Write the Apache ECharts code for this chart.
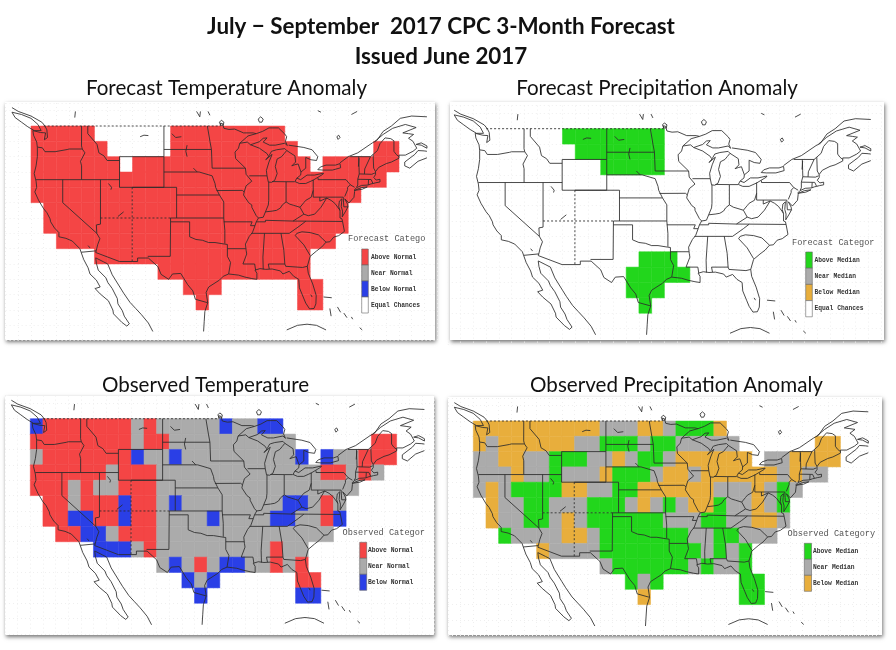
<!DOCTYPE html>
<html>
<head>
<meta charset="UTF-8">
<title>CPC 3-Month Forecast</title>
<script src="https://cdn.jsdelivr.net/npm/echarts@6/dist/echarts.min.js"></script>
<style>
html,body{margin:0;padding:0;background:#fff;}
#main{width:896px;height:650px;filter:blur(0.45px);}
</style>
</head>
<body>
<div id="main"></div>
<script>
// grid cells: 2 x 2 degree boxes, first row starts at 47N, first column at 125W
// R/A = above, N = near, B = below, . = no cell
var forecastTemp = [
  'RRRRR......RRRRRRRRR.........',
  'RRRRRR.....RRRRRRRRRR......RR',
  'RRRRRRR.RRRRRRRRRRRRRR.RRRRRR',
  'RRRRRRRRRRRRRRRRRRRRRRRRRRRR.',
  'RRRRRRRRRRRRRRRRRRRRRRRRRR...',
  '.RRRRRRRRRRRRRRRRRRRRRRRR....',
  '.RRRRRRRRRRRRRRRRRRRRRRRR....',
  '..RRRRRRRRRRRRRRRRRRRRRR.....',
  '.....RRRRRRRRRRRRRRRRR.......',
  '..........RRRRRRRRRRRR.......',
  '............RRR......RR......',
  '.............R.......RR......'
];
var forecastPrecip = [
  '.......AAAAAAAA..............',
  '........AAAAAAA..............',
  '..........AAAAA..............',
  '',
  '',
  '',
  '',
  '',
  '.............AAA.............',
  '............AAAAA............',
  '............AAA..............',
  '.............A...............'
];
var observedTemp = [
  'BRRRRRRRNRNNNNNBNNBB.........',
  'RRRRRRRRNRRNNNNNNNNNN......RR',
  'NRRRRRRRBNNBNNNNNNNNNB.BNNRRR',
  'RRRRRRNRRRNNNNNNNNNNNNNRRNRN.',
  'RRRNRNNRRRNNNNNNNNNNNNNNNN...',
  '.RRNRRRBRRNBNNNNNNNNBBNRN....',
  '.RRBBRRBRRNNNNBNNNNBBNNRB....',
  '..RRBBNRRRNNNNNNNNNNNNNN.....',
  '.....BBBNRNNNNNNNNNRNN.......',
  '..........NBNRNBBNNRNR.......',
  '............BNB......RR......',
  '.............B.......BB......'
];
var observedPrecip = [
  'BBBBBBBBBBNNNBBNAAAB.........',
  'BNBBBBBBNNAAANAANNNNN......BB',
  'NNBBNNAAANNBNAANBBBBBB.NNBBBB',
  'NNNBNNANNNBAAANBBNBBBBBBNBNN.',
  'NBNAAAABBNNAABBBBBBNNNBNAN...',
  '.BNNAANNNAAANBNANBBANNBNA....',
  '.BNNAANBNAAAAAANNNAANNBBN....',
  '..ANNNNBBNAAAAAAANNAANNN.....',
  '.....BNNNNAAAAAAAANANA.......',
  '..........NAAAAAANANNA.......',
  '............ANA......AA......',
  '.............B.......AA......'
];

var tempLabels = ['Above Normal', 'Near Normal', 'Below Normal', 'Equal Chances'];
var precipLabels = ['Above Median', 'Near Median', 'Below Median', 'Equal Chances'];

// map outlines in lon/lat
var coasts = [
  [[-122.8,49],[-122.5,48.5],[-122.4,47.5],[-122.9,47.2],[-122.7,48.1],[-123.5,48.15],[-124.7,48.4],[-124.6,47.8],[-124.1,46.9],[-124,46.2],[-124,45],[-124.2,43.8],[-124.5,42.8],[-124.2,41.8],[-124.1,41],[-124.4,40.4],[-123.8,39.3],[-123,38.2],[-122.5,37.7],[-122,36.9],[-121.9,36.5],[-121.3,35.7],[-120.6,35.1],[-120.6,34.55],[-119.5,34.35],[-118.5,34],[-118.2,33.75],[-117.3,33],[-117.1,32.53],[-116.7,31.6],[-116,30.5],[-115.7,29.7],[-114.7,28.9],[-114.1,28],[-114.9,27.8],[-114.1,27.1],[-112.8,26.2],[-112.1,25],[-112,24.5],[-110.7,23.4],[-109.9,22.9],[-109.5,23.2],[-110.3,24.2],[-110.6,24.9],[-111.3,25.8],[-111.4,26.5],[-112.2,27.8],[-112.9,28.6],[-113.2,29.2],[-114.4,30.2],[-114.7,31.1],[-114.8,31.8],[-113.6,31.3],[-112.9,31],[-112.2,29.6],[-111,28],[-110.4,27.2],[-109.4,26],[-108.5,25.2],[-107.6,24.4],[-106.5,23.3],[-105.8,22.2]],
  [[-97.8,22.2],[-97.7,23.5],[-97.6,24.8],[-97.15,25.95],[-97.4,27.3],[-97,28],[-95.3,28.9],[-94.7,29.4],[-93.85,29.7],[-92.3,29.55],[-91.3,29.3],[-90.2,29.1],[-89.4,29],[-89.4,29.8],[-89.7,30.2],[-88.9,30.4],[-88,30.3],[-87,30.35],[-85.7,30.1],[-85.3,29.7],[-84.3,30.05],[-83.6,29.4],[-82.8,29],[-82.7,27.9],[-82.1,26.7],[-81.7,25.9],[-81.1,25.15],[-80.4,25.2],[-80.1,25.8],[-80.05,26.9],[-80.6,28.4],[-81.3,29.8],[-81.45,30.7],[-81,32],[-80,32.7],[-79.2,33.2],[-78.5,33.85],[-77.9,33.9],[-77.3,34.5],[-76.5,34.7],[-75.6,35.25],[-75.9,36.55],[-76,36.9],[-76.3,37],[-76.3,37.9],[-76.5,38.5],[-76.4,39.2],[-76,39.5],[-76.1,38.5],[-75.9,37.9],[-75.95,37.15],[-75.4,37.9],[-75.05,38.45],[-75.1,38.8],[-75.55,39.5],[-74.9,38.95],[-74.1,39.7],[-74,40.45],[-74,40.7],[-73.7,40.95],[-72.9,41.25],[-71.9,41.3],[-71.4,41.45],[-71.1,41.5],[-70.65,41.6],[-70,41.7],[-70,42.05],[-70.6,41.95],[-71,42.3],[-70.7,42.65],[-70.7,43.05],[-70.2,43.6],[-69,44.1],[-68.2,44.3],[-67,44.8],[-67,45.2],[-66,45.2],[-64.8,45.7],[-64.2,46.1],[-64.8,47],[-65.5,47.4],[-64.7,47.9],[-65.5,48],[-66.4,48.1],[-64.3,48.8],[-66,49.2],[-68,48.7],[-69.5,47.9],[-70.8,47]],
  [[-74,40.6],[-72.8,40.75],[-72,41.05],[-73,40.95],[-74,40.6]],
  [[-76.3,44.2],[-75,45],[-73.5,45.5],[-71.2,46.8],[-70.5,47.1],[-69.5,48.3],[-68.2,49],[-66.8,50],[-65,50.3],[-62.6,50.2]],
  [[-66.1,43.8],[-65.3,43.5],[-64,44.4],[-62.6,44.85]],
  [[-66.1,43.8],[-66.1,44.3],[-64.5,45.3],[-64,45.8],[-63,45.75],[-62.6,45.7]],
  [[-64.3,46.6],[-63.5,46.5],[-62.6,46.1],[-62.6,46.4],[-63.5,46.8],[-64.3,46.6]],
  [[-128,50.8],[-127.5,50.1],[-126.5,49.5],[-125.5,48.9],[-124.5,48.4],[-123.4,48.4],[-123.9,49.2],[-125,50],[-126.5,50.5],[-128,50.8]],
  [[-122.8,49],[-123.3,49.5],[-125,50.3],[-127,50.9],[-128,51.4]],
  [[-84.7,22.4],[-83,23],[-81.5,23.15],[-80,23],[-78.5,22.4]],
  [[-78.9,26.7],[-77.6,26.6]],[[-77.9,25.2],[-77.7,24.2]],[[-76.7,25.4],[-76.2,24.7]],[[-75.7,24.6],[-75.2,24]],[[-74.5,24.1],[-74.3,23.8]],[[-73.2,22.7],[-72.8,22.4]]
];
var lakes = [
  [[-92.1,46.75],[-90.9,46.9],[-90.4,46.55],[-89,46.95],[-88.4,47.4],[-87.8,47.45],[-88.4,46.9],[-87.4,46.5],[-86.5,46.5],[-85,46.75],[-84.6,46.45],[-84.9,47],[-84.7,47.6],[-85,47.95],[-86,48.75],[-87.5,48.75],[-88.5,48.3],[-89.5,48],[-90.8,47.7],[-92.1,46.75]],
  [[-87.6,41.7],[-87.8,42.5],[-87.9,43.2],[-87.5,44.3],[-87,45.3],[-88,44.6],[-87.5,45.1],[-87.1,45.7],[-86.3,45.9],[-85,46.05],[-84.7,45.8],[-85.1,45.4],[-85.5,45],[-86.2,44.7],[-86.5,43.7],[-86.2,42.8],[-86.6,41.9],[-87.1,41.65],[-87.6,41.7]],
  [[-84.7,45.8],[-83.4,45.1],[-83.3,44.3],[-83.9,43.8],[-83.4,43.95],[-82.9,44.05],[-82.45,43],[-82.5,42.6],[-83.1,42.2],[-83.4,41.75],[-82.7,41.5],[-81.7,41.5],[-80.5,41.95],[-79,42.7],[-78.9,42.85],[-80.3,42.6],[-81.5,42.6],[-82.5,42],[-83.1,42.2]],
  [[-82.45,43],[-81.7,43.5],[-81.7,44.9],[-80.9,44.6],[-80,44.5],[-79.8,45],[-80.7,45.9],[-82,46.2],[-84.4,46.5]],
  [[-79.8,43.3],[-79,43.25],[-77.5,43.25],[-76.2,43.55],[-76.3,44.1],[-77,43.9],[-78.5,43.9],[-79.4,43.65],[-79.8,43.3]],
  [[-107.8,47.6],[-107.2,47.8],[-106.5,47.75]],
  [[-102.8,48],[-102.2,47.5],[-101.3,47.6]],
  [[-100.4,46.5],[-100.6,45.7],[-100.4,45]],
  [[-99.4,43.5],[-98.8,43]],
  [[-112.8,41.5],[-112.3,41],[-112.4,40.7]],
  [[-111.3,37.2],[-110.4,37.8]],
  [[-116,33.4],[-115.7,33.1]],
  [[-73.3,44.8],[-73.4,43.7]],
  [[-80.9,27],[-80.7,26.7]],
  [[-98.9,50.9],[-98.4,50.2],[-98.3,50.9]],
  [[-97.1,50.9],[-96.8,50.4]],
  [[-95.3,49.5],[-95,49.75],[-94.6,49.5],[-94.7,49.1],[-95.1,49.1],[-95.3,49.5]],
  [[-89.2,49.9],[-88.8,50.2],[-88.4,49.9],[-88.6,49.5],[-89,49.5],[-89.2,49.9]],
  [[-118,50.9],[-118.1,50.1]],
  [[-76.8,47.6],[-76.5,47.8],[-76.3,47.5],[-76.6,47.25],[-76.8,47.6]],
  [[-74.5,50.5],[-73.6,50.9]],
  [[-79.8,51],[-79.3,50.8]]
];
var borders = [
  [[-124,46.25],[-123.2,46.15],[-122.8,45.65],[-121.2,45.65],[-119.3,45.93],[-119,46],[-116.92,46]],
  [[-117.03,49],[-117.04,46.4],[-116.92,46],[-116.5,45.5],[-117.2,44.4],[-117.03,43.8],[-117.03,42]],
  [[-124.2,42],[-111.05,42]],
  [[-116.05,49],[-116.05,48],[-114.6,46.6],[-114.3,45.5],[-113.5,45.1],[-113,44.5],[-111.05,44.5]],
  [[-111.05,45],[-104.05,45],[-104.05,41],[-111.05,41],[-111.05,45]],
  [[-104.05,49],[-104.05,45]],
  [[-114.05,42],[-114.05,37]],
  [[-120,42],[-120,39],[-114.63,35]],
  [[-114.05,37],[-114.05,36.2],[-114.7,36.1],[-114.63,35],[-114.14,34.3],[-114.5,33.5],[-114.72,32.72]],
  [[-103,37],[-94.62,37]],
  [[-109.05,41],[-102.05,41],[-102.05,37]],
  [[-103,37],[-103.05,32],[-106.6,32]],
  [[-103,36.5],[-100,36.5],[-100,34.55],[-99,34.2],[-98,34.1],[-97,33.8],[-96,33.8],[-94.5,33.6],[-94.05,33.55],[-94.05,32],[-93.55,31.2],[-93.85,29.7]],
  [[-94.62,37],[-94.45,35.4],[-94.45,33.65]],
  [[-102.05,40],[-95.3,40]],
  [[-104.05,43],[-98.5,43],[-96.45,42.5]],
  [[-104.05,45.94],[-96.56,45.94]],
  [[-97.2,49],[-96.8,47],[-96.56,45.94],[-96.45,43.5],[-91.2,43.5]],
  [[-96.45,42.5],[-96,41.5],[-95.9,41],[-95.3,40],[-94.62,39.1],[-94.62,37]],
  [[-95.77,40.58],[-91.7,40.6],[-91.4,40.4]],
  [[-92.1,46.75],[-92.3,46.1],[-92.85,45.6],[-92.75,44.75],[-91.2,43.5],[-91.1,42.7],[-90.2,41.8],[-91.1,41.2],[-91.4,40.4],[-91.5,40],[-90.7,39],[-90.2,38.7],[-90.2,38.4],[-89.5,37.3],[-89.15,37],[-89.5,36.5],[-89.7,36],[-90.1,35.1],[-90.6,34.6],[-91.2,33.6],[-91.1,32.8],[-91,32.3],[-91.6,31],[-89.75,31],[-89.6,30.2]],
  [[-90.6,42.5],[-87.8,42.5]],
  [[-90.4,46.55],[-89,46.1],[-87.8,45.4],[-87.6,45.1]],
  [[-87.53,41.7],[-87.53,39.3],[-87.6,38.7],[-88.05,37.8]],
  [[-89.15,37],[-88.4,37.1],[-88.05,37.8],[-87,37.9],[-86.3,38],[-85.7,38.3],[-85.4,38.7],[-84.8,39.1],[-84.2,38.8],[-83.6,38.65],[-82.6,38.4],[-82,39],[-81.7,39.3],[-80.85,39.7],[-80.52,40.6]],
  [[-84.8,39.1],[-84.8,41.73]],
  [[-87,41.75],[-84.8,41.73],[-83.45,41.73]],
  [[-80.52,42],[-80.52,39.72],[-75.79,39.72]],
  [[-79.48,39.72],[-79.48,39.2],[-78.4,39.6],[-77.7,39.3],[-77.1,38.9],[-76.3,38]],
  [[-79.76,42.25],[-79.76,42],[-75.35,42],[-74.7,41.35],[-75.1,41],[-75.1,40.7],[-75.55,39.8]],
  [[-74.7,41.35],[-74,41]],
  [[-73.35,45],[-73.3,43.6],[-73.27,42.75],[-73.5,42.05],[-73.5,41.3],[-73.7,41]],
  [[-74.7,45],[-71.5,45]],
  [[-73.5,42.05],[-71.4,42.02],[-71.1,41.5]],
  [[-73.27,42.75],[-71.3,42.7],[-70.8,42.87]],
  [[-71.5,45],[-72.4,43.4],[-72.45,42.73]],
  [[-71.08,45.3],[-71,43.5],[-70.7,43.05]],
  [[-71.8,42],[-71.85,41.3]],
  [[-71.5,45],[-71.08,45.3],[-70.4,45.8],[-70,46.7],[-69.2,47.45],[-68.3,47.35],[-67.8,47.07],[-67.8,45.7],[-67.45,45.3],[-67,45]],
  [[-89.5,36.5],[-88.05,36.5],[-88.05,36.7],[-83.7,36.6],[-81.68,36.59],[-75.9,36.55]],
  [[-83.7,36.6],[-82,37.5],[-82.6,38.4]],
  [[-82,37.5],[-81.3,37.3],[-80.3,37.5],[-79.3,38.4],[-78.4,39.6]],
  [[-75.79,39.72],[-75.7,38.46],[-75.05,38.45]],
  [[-90.3,35],[-84.3,35]],
  [[-81.68,36.59],[-82.6,36],[-84.3,35]],
  [[-83.1,35],[-82.3,35.2],[-81,35.1],[-79.7,34.8],[-78.5,33.85]],
  [[-83.1,35],[-83.35,34.7],[-82,33.5],[-81,32.1]],
  [[-85.6,35],[-85.15,32.8],[-85,31],[-84.86,30.7],[-82.2,30.55],[-81.45,30.7]],
  [[-85,31],[-87.6,31],[-87.45,30.35]],
  [[-88.2,35],[-88.45,31.9],[-88.4,30.3]],
  [[-94.05,33],[-91.15,33]],
  [[-94.62,36.5],[-90.15,36.5],[-90.4,36],[-89.7,36]],
  [[-117.1,32.53],[-114.72,32.72],[-114.8,32.5],[-111.07,31.33],[-108.2,31.33],[-108.2,31.78],[-106.5,31.78],[-105,30.65],[-104.5,29.65],[-103.3,29],[-102.7,29.7],[-101.4,29.77],[-100.3,28.3],[-99.5,27.5],[-99.1,26.4],[-97.15,25.95]],
  [[-95.15,49],[-95.15,49.38],[-94.8,49.3],[-94.6,48.7],[-93.8,48.55],[-92.9,48.6],[-91.5,48.1],[-90,48.1],[-89.5,48]]
];
var dashedBorders = [
  [[-123,49],[-95.15,49]],
  [[-114.05,37],[-103,37]],
  [[-109.05,41],[-109.05,31.33]]
];

var redCol = '#f44545', grayCol = '#ababab', blueCol = '#2a3fe6', greenCol = '#22d61c', orangeCol = '#e8ae3c', whiteCol = '#ffffff';

// panel = white card, map = where lon -125 / lat 49 land and how many px per degree
var panels = [
  {rows: forecastTemp, palette: {R: redCol}, card: [5, 102, 430, 238], map: [31, 126, 6.345, 7.667],
   head: 'Forecast Catego', labels: tempLabels, colors: [redCol, grayCol, blueCol, whiteCol],
   bar: [361.7, 249, 6.6, 16], headAt: [348, 239], labelX: 371},
  {rows: forecastPrecip, palette: {A: greenCol}, card: [450, 102, 434, 238], map: [473.3, 128.7, 6.37, 7.69],
   head: 'Forecast Categor', labels: precipLabels, colors: [greenCol, grayCol, orangeCol, whiteCol],
   bar: [805.7, 252, 6.6, 16.2], headAt: [792, 243], labelX: 814.5},
  {rows: observedTemp, palette: {R: redCol, N: grayCol, B: blueCol}, card: [5, 396, 429, 239], map: [30.3, 418.7, 6.316, 7.69],
   head: 'Observed Categor', labels: tempLabels.slice(0, 3), colors: [redCol, grayCol, blueCol],
   bar: [359.7, 542.3, 7, 16], headAt: [342.5, 532.7], labelX: 368},
  {rows: observedPrecip, palette: {A: greenCol, N: grayCol, B: orangeCol}, card: [448, 397, 434, 238], map: [473.3, 421, 6.33, 7.65],
   head: 'Observed Category', labels: precipLabels.slice(0, 3), colors: [greenCol, grayCol, orangeCol],
   bar: [804.3, 543.3, 7.2, 16], headAt: [787.5, 534], labelX: 813}
];

function cellsOf(rows) {
  var out = [];
  rows.forEach(function (row, r) {
    row.split('').forEach(function (c, i) {
      if (c != '.') out.push([-125 + i * 2, 47 - r * 2, c]);
    });
  });
  return out;
}

function toLines(list) {
  return list.map(function (l) { return {coords: l}; });
}

function headTitle(text, x, y, size, weight) {
  return {
    text: text, left: x, top: y, padding: 0, textAlign: 'center',
    textStyle: {fontFamily: 'Lato', fontSize: size, fontWeight: weight, color: '#111'}
  };
}

var grids = [], xAxes = [], yAxes = [], series = [], graphics = [];

panels.forEach(function (p, i) {
  var cells = cellsOf(p.rows);
  graphics.push({
    type: 'rect', z: -10, silent: true,
    shape: {x: p.card[0], y: p.card[1], width: p.card[2], height: p.card[3]},
    style: {fill: '#fff', shadowBlur: 4, shadowColor: 'rgba(0,0,0,0.55)', shadowOffsetX: 1, shadowOffsetY: 2}
  });
  // axes run -129..-61 and 21..52
  grids.push({
    left: p.map[0] - 4 * p.map[2], width: 68 * p.map[2],
    top: p.map[1] - 3 * p.map[3], height: 31 * p.map[3]
  });
  xAxes.push({
    gridIndex: i, type: 'value', min: -129, max: -61, interval: 2,
    axisLine: {show: false}, axisTick: {show: false}, axisLabel: {show: false},
    splitLine: {show: true, lineStyle: {color: '#efefef', type: [1, 3], width: 1}}
  });
  yAxes.push({
    gridIndex: i, type: 'value', min: 21, max: 52, interval: 2,
    axisLine: {show: false}, axisTick: {show: false}, axisLabel: {show: false},
    splitLine: {show: true, lineStyle: {color: '#efefef', type: [1, 3], width: 1}}
  });
  series.push({
    type: 'custom', xAxisIndex: i, yAxisIndex: i, silent: true, z: 2,
    data: cells,
    encode: {x: 0, y: 1},
    renderItem: function (params, api) {
      var a = api.coord([api.value(0), api.value(1) + 2]);
      var b = api.coord([api.value(0) + 2, api.value(1)]);
      var col = p.palette[cells[params.dataIndex][2]];
      return {
        type: 'rect',
        shape: {x: a[0], y: a[1], width: b[0] - a[0], height: b[1] - a[1]},
        style: {fill: col, stroke: col, lineWidth: 0.5}
      };
    }
  });
  series.push({
    type: 'lines', coordinateSystem: 'cartesian2d', xAxisIndex: i, yAxisIndex: i, polyline: true, silent: true, z: 3,
    lineStyle: {color: '#2c2c2c', width: 1, opacity: 0.85},
    data: toLines(coasts.concat(lakes, borders))
  });
  series.push({
    type: 'lines', coordinateSystem: 'cartesian2d', xAxisIndex: i, yAxisIndex: i, polyline: true, silent: true, z: 3,
    lineStyle: {color: '#2c2c2c', width: 1, opacity: 0.85, type: [2, 2]},
    data: toLines(dashedBorders)
  });

  // category key
  graphics.push({
    type: 'text', z: 20, silent: true, x: p.headAt[0], y: p.headAt[1],
    style: {text: p.head, font: '8.6px "Liberation Mono"', fill: '#555', verticalAlign: 'middle'}
  });
  p.labels.forEach(function (label, k) {
    graphics.push({
      type: 'rect', z: 20, silent: true,
      shape: {x: p.bar[0], y: p.bar[1] + k * p.bar[3], width: p.bar[2], height: p.bar[3]},
      style: {fill: p.colors[k], stroke: '#666', lineWidth: 0.6}
    });
    graphics.push({
      type: 'text', z: 20, silent: true, x: p.labelX, y: p.bar[1] + (k + 0.5) * p.bar[3],
      style: {text: label, font: 'bold 6.3px "Liberation Mono"', fill: '#333', verticalAlign: 'middle'}
    });
  });
});

var myChart = echarts.init(document.getElementById('main'));

var option = {
  animation: false,
  backgroundColor: '#fff',
  title: [
    headTitle('July \u2212 September  2017 CPC 3-Month Forecast', 441, 16, 22.4, 'bold'),
    headTitle('Issued June 2017', 441, 46, 22.4, 'bold'),
    headTitle('Forecast Temperature Anomaly', 226.5, 78, 20.6, 'normal'),
    headTitle('Forecast Precipitation Anomaly', 657, 78, 20.6, 'normal'),
    headTitle('Observed Temperature', 205.5, 375, 20.6, 'normal'),
    headTitle('Observed Precipitation Anomaly', 676.5, 375, 20.6, 'normal')
  ],
  grid: grids,
  xAxis: xAxes,
  yAxis: yAxes,
  graphic: {elements: graphics},
  series: series
};
myChart.setOption(option);
</script>
</body>
</html>
